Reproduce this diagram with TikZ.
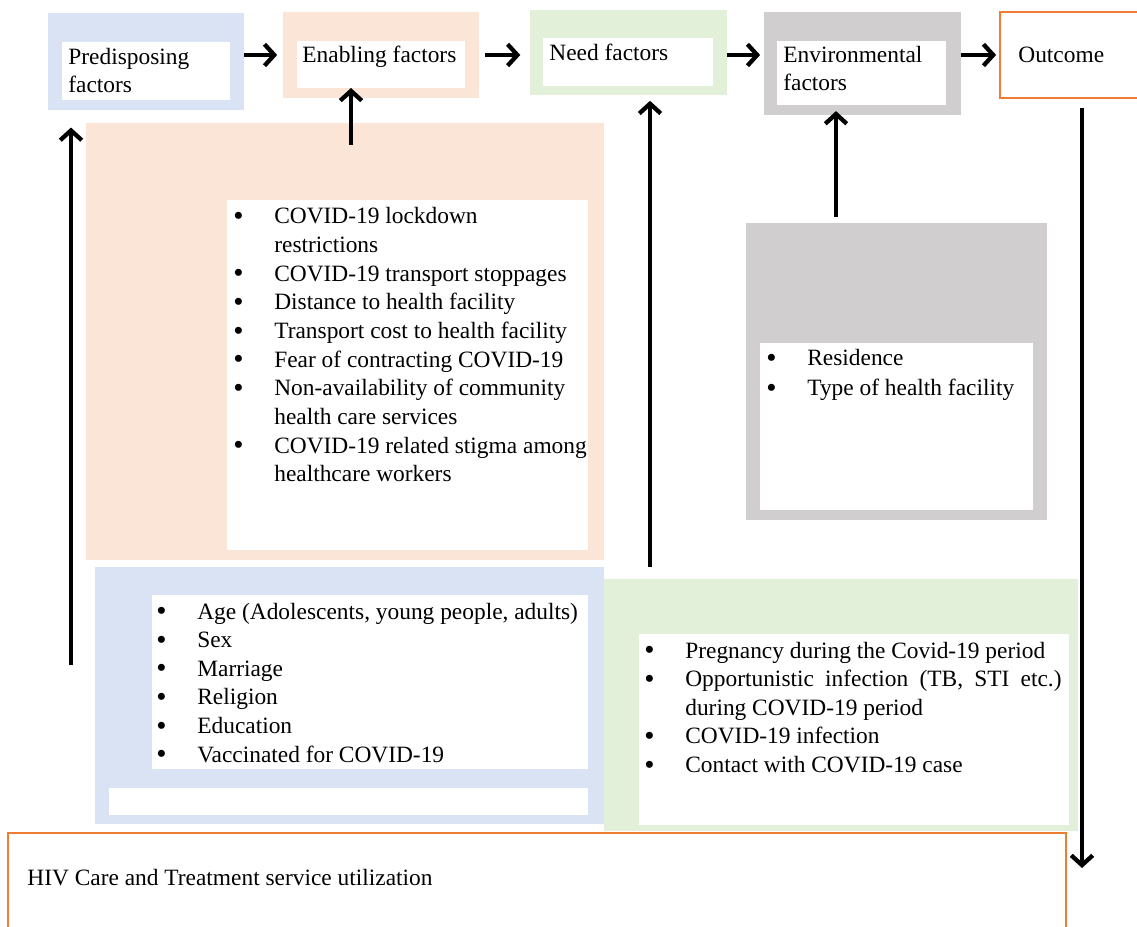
\documentclass[tikz,border=0pt]{standalone}
\usepackage{fontspec}
\setmainfont{Liberation Serif}
\usetikzlibrary{arrows.meta,fit}
\definecolor{predcol}{HTML}{DAE3F3}
\definecolor{enabcol}{HTML}{FBE5D6}
\definecolor{needcol}{HTML}{E2F0D9}
\definecolor{envcol}{HTML}{D0CECE}
\definecolor{outcol}{HTML}{ED7D31}
\newcommand{\bl}{\makebox[21pt][l]{\raisebox{-0.8pt}{\fontsize{15}{15}\selectfont\textbullet}}}
\newcommand{\ind}{\hspace*{21pt}}
\newcommand{\lines}[1]{\begin{tabular}[t]{@{}l@{}}#1\end{tabular}}

\begin{document}
\begin{tikzpicture}[x=0.513pt,y=-0.513pt,
	panel/.style={fill=#1,inner sep=0pt,outer sep=0pt},
	pane/.style={fill=white,inner sep=0pt,outer sep=0pt},
	txt/.style={anchor=base west,inner sep=0pt,font=\fontsize{12}{14.7}\selectfont},
	arr/.style={line width=2.2pt,-{Straight Barb[length=5pt,width=11pt]}}]
	\useasboundingbox (0,0) rectangle (1137,927);
	\clip (0,0) rectangle (1137,927);
	\fill[white] (0,0) rectangle (1137,927);
	% top row
	\node[panel=predcol,fit={(48,13) (244,110)}] (pre) {};
	\node[pane,fit={(62,42) (230,100)}] (prein) {};
	\node[txt,font=\fontsize{12}{14}\selectfont] (pretxt) at (68,65) {\lines{Predisposing\\factors}};
	\node[panel=enabcol,fit={(283,12) (479,98)}] (ena) {};
	\node[pane,fit={(297,41) (465,88)}] (enain) {};
	\node[txt] (enatxt) at (302,63) {Enabling factors};
	\node[panel=needcol,fit={(530,10) (727,95)}] (need) {};
	\node[pane,fit={(543,38) (713,86)}] (needin) {};
	\node[txt] (needtxt) at (549,61) {Need factors};
	\node[panel=envcol,fit={(764,12) (961,115)}] (env) {};
	\node[pane,fit={(777,41) (946,105)}] (envin) {};
	\node[txt,font=\fontsize{12}{14}\selectfont] (envtxt) at (783,63) {\lines{Environmental\\factors}};
	\node[pane,draw=outcol,line width=1pt,fit={(1000,12) (1150,98)}] (out) {};
	\node[txt] (outtxt) at (1018,63) {Outcome};
	% lists
	\node[panel=enabcol,fit={(86,123) (604,560)}] (enabox) {};
	\node[pane,fit={(227,200) (588,550)}] (enabin) {};
	\node[txt] (enalist) at (233,224) {\lines{\bl COVID-19 lockdown\\
		\ind restrictions\\
		\bl COVID-19 transport stoppages\\
		\bl Distance to health facility\\
		\bl Transport cost to health facility\\
		\bl Fear of contracting COVID-19\\
		\bl Non-availability of community\\
		\ind health care services\\
		\bl COVID-19 related stigma among\\
		\ind healthcare workers}};
	\node[panel=envcol,fit={(746,223) (1047,520)}] (envbox) {};
	\node[pane,fit={(760,343) (1033,510)}] (envbin) {};
	\node[txt] (envlist) at (766,366) {\lines{\bl Residence\\[0.5pt]
		\bl Type of health facility}};
	\node[panel=predcol,fit={(95,567) (604,824)}] (prebox) {};
	\node[pane,fit={(152,595) (588,769)}] (prebin) {};
	\node[pane,fit={(109,788) (588,815)}] (preblank) {};
	\node[txt] (prelist) at (156,619) {\lines{\bl Age (Adolescents, young people, adults)\\
		\bl Sex\\
		\bl Marriage\\
		\bl Religion\\
		\bl Education\\
		\bl Vaccinated for COVID-19}};
	\node[panel=needcol,fit={(604,579) (1078,831)}] (needbox) {};
	\node[pane,fit={(639,634) (1069,825)}] (needbin) {};
	\node[txt] (needlist) at (644,658) {\lines{\bl Pregnancy during the Covid-19 period\\
		\bl \makebox[193pt][s]{Opportunistic\hfill infection\hfill (TB,\hfill STI\hfill etc.)}\\
		\ind during COVID-19 period\\
		\bl COVID-19 infection\\
		\bl Contact with COVID-19 case}};
	\node[pane,draw=outcol,line width=1pt,fit={(8,833) (1066,940)}] (hiv) {};
	\node[txt] (hivtxt) at (27,885) {HIV Care and Treatment service utilization};
	% arrows
	\draw[arr,shorten >=3pt] (pre.east |- ena.west) -- (ena.west);
	\draw[arr,shorten <=3pt,shorten >=5pt] (ena.east) -- (need.west |- ena.east);
	\draw[arr,shorten >=2pt] (need.east |- ena.east) -- (env.west |- ena.east);
	\draw[arr,shorten >=2pt] (env.east |- ena.east) -- (out.west |- ena.east);
	\coordinate (predfrom) at (71,665);
	\draw[arr,shorten >=9pt] (predfrom) -- (predfrom |- pre.south);
	\coordinate (enafrom) at (351,145);
	\draw[arr] (enafrom) -- (enafrom |- enain.south);
	\coordinate (needfrom) at (650,567);
	\draw[arr,shorten >=3pt] (needfrom) -- (needfrom |- need.south);
	\coordinate (envfrom) at (836,217);
	\draw[arr,shorten >=-2pt] (envfrom) -- (envfrom |- env.south);
	\coordinate (outto) at (1082,868);
	\draw[arr,shorten <=5pt] (outto |- out.south) -- (outto);
%	\draw[arr] (hiv.east) -- (out.south);
\end{tikzpicture}
\end{document}
